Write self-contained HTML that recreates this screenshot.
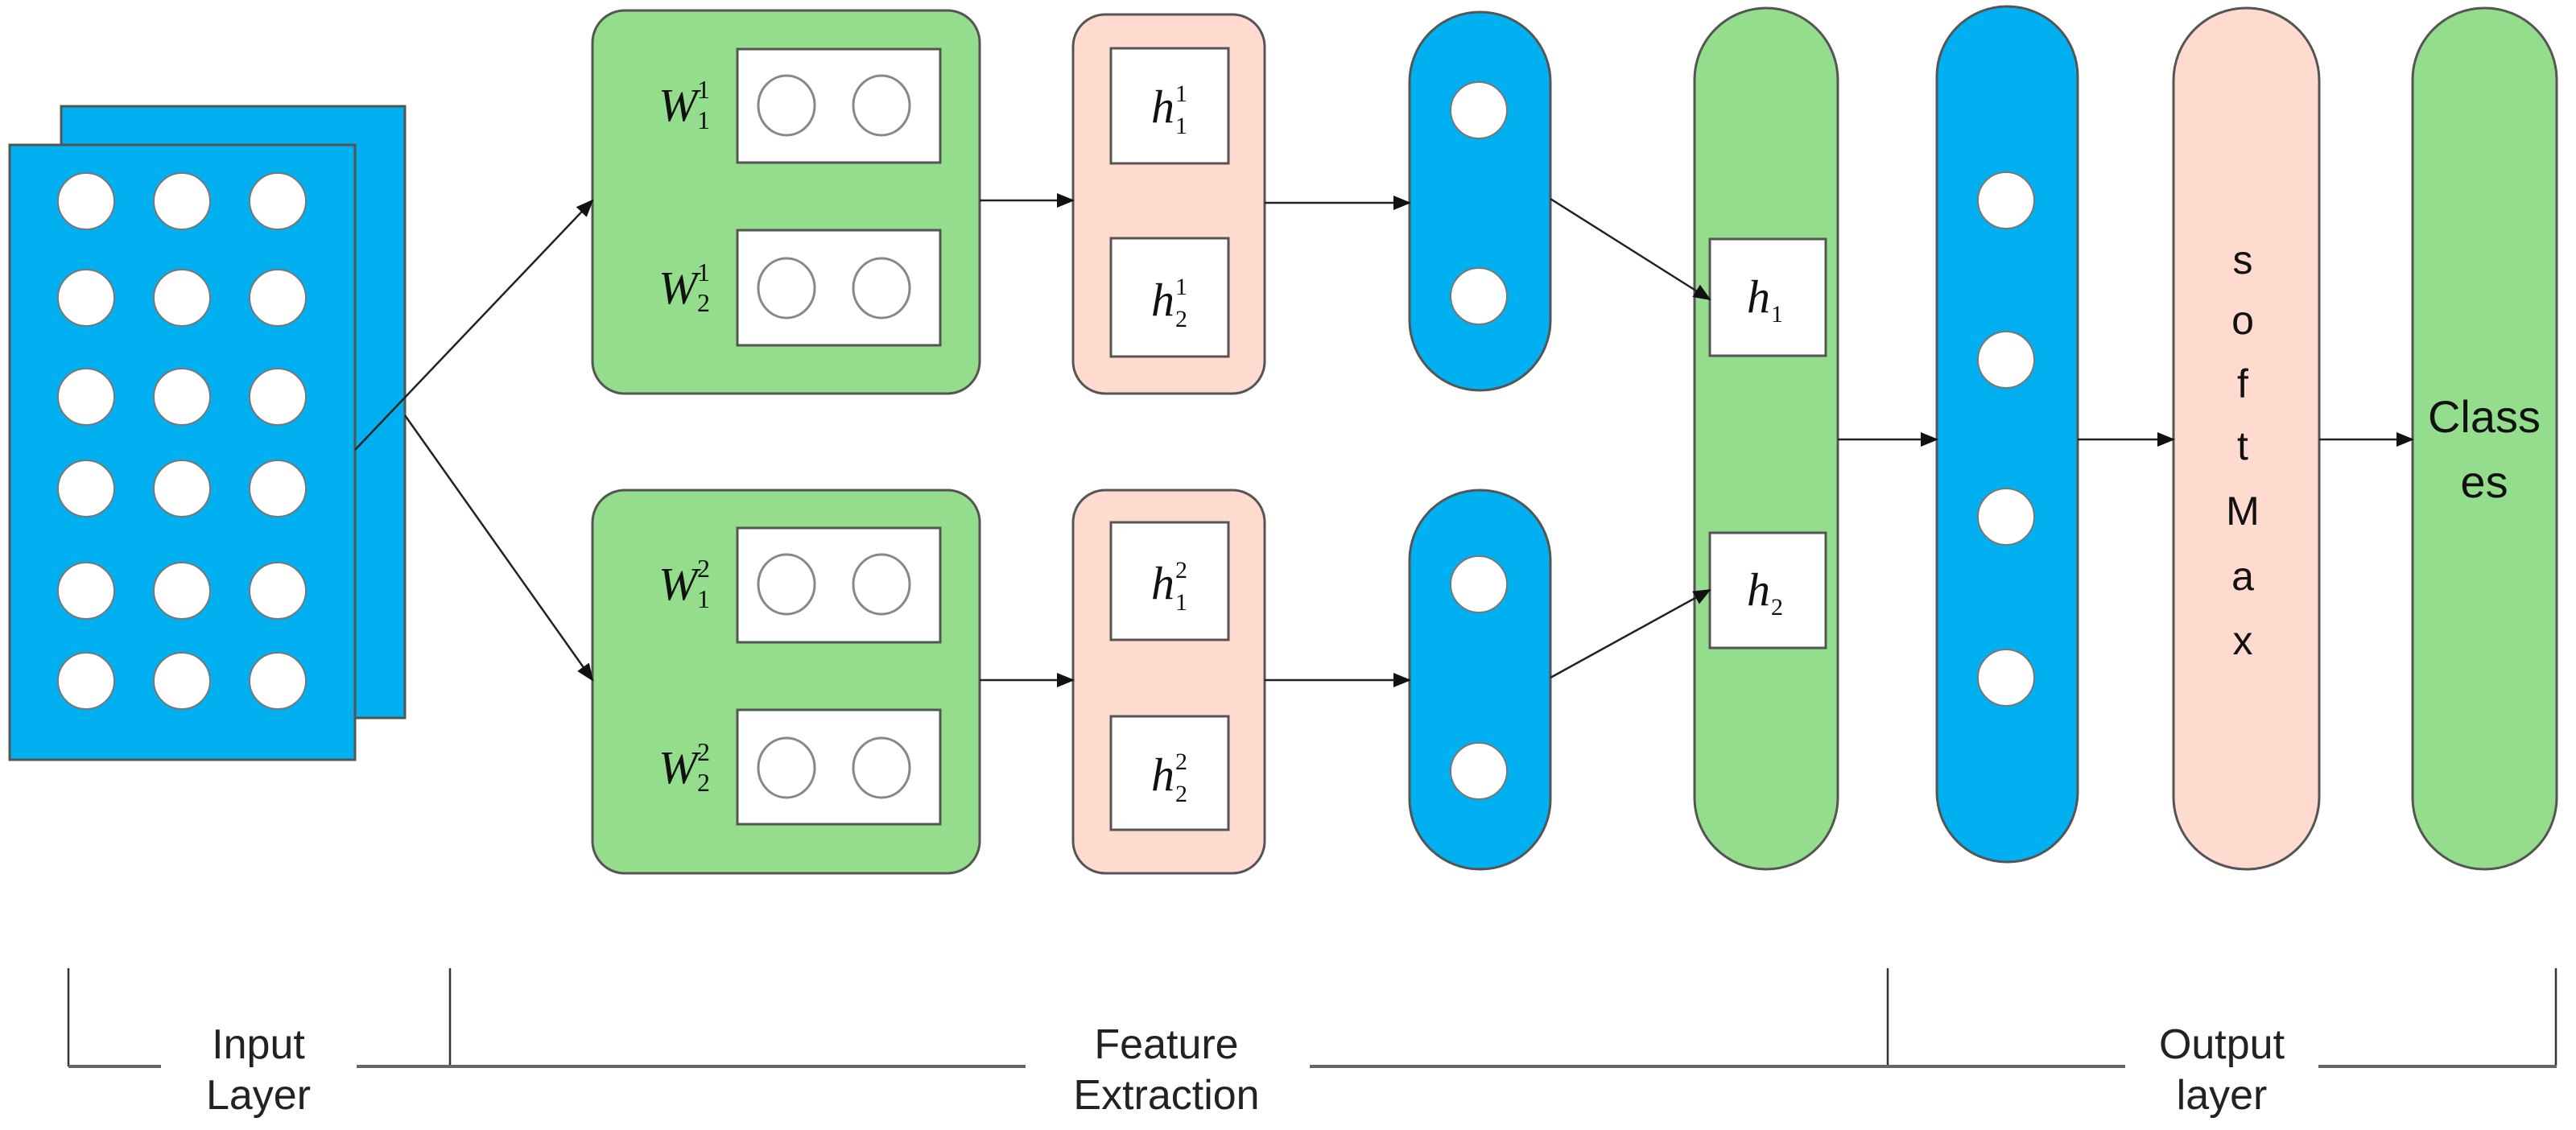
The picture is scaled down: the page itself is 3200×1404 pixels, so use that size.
<!DOCTYPE html>
<html><head><meta charset="utf-8"><style>html,body{margin:0;padding:0;background:#fff}svg{display:block}</style></head>
<body>
<svg width="3200" height="1404" viewBox="0 0 3200 1404" xmlns="http://www.w3.org/2000/svg">
<defs>
<marker id="ah" markerWidth="8" markerHeight="8" refX="7" refY="4" orient="auto" markerUnits="userSpaceOnUse" viewBox="0 0 8 8">
<path d="M0,0 L8,4 L0,8 z" fill="#111"/>
</marker>
<marker id="a" markerWidth="22" markerHeight="18" refX="20" refY="9" orient="auto" markerUnits="userSpaceOnUse">
<path d="M0,0 L22,9 L0,18 z" fill="#111"/>
</marker>
</defs>
<g stroke="#555" stroke-width="3">
<!-- input -->
<rect x="76" y="132" width="427" height="760" fill="#00B0F0"/>
<rect x="12" y="180" width="429" height="764" fill="#00B0F0"/>
</g>
<g fill="#fff" stroke="#777" stroke-width="2">
<circle cx="107" cy="250" r="35"/><circle cx="226" cy="250" r="35"/><circle cx="345" cy="250" r="35"/>
<circle cx="107" cy="370" r="35"/><circle cx="226" cy="370" r="35"/><circle cx="345" cy="370" r="35"/>
<circle cx="107" cy="493" r="35"/><circle cx="226" cy="493" r="35"/><circle cx="345" cy="493" r="35"/>
<circle cx="107" cy="607" r="35"/><circle cx="226" cy="607" r="35"/><circle cx="345" cy="607" r="35"/>
<circle cx="107" cy="734" r="35"/><circle cx="226" cy="734" r="35"/><circle cx="345" cy="734" r="35"/>
<circle cx="107" cy="846" r="35"/><circle cx="226" cy="846" r="35"/><circle cx="345" cy="846" r="35"/>
</g>
<g stroke="#555" stroke-width="3">
<!-- green boxes -->
<rect x="736" y="13" width="481" height="476" rx="40" fill="#94DD8D"/>
<rect x="736" y="609" width="481" height="476" rx="40" fill="#94DD8D"/>
<!-- pink boxes -->
<rect x="1333" y="18" width="238" height="471" rx="40" fill="#FFDACF"/>
<rect x="1333" y="609" width="238" height="476" rx="40" fill="#FFDACF"/>
<!-- white boxes -->
<rect x="916" y="61" width="252" height="141" fill="#fff"/>
<rect x="916" y="286" width="252" height="143" fill="#fff"/>
<rect x="916" y="656" width="252" height="142" fill="#fff"/>
<rect x="916" y="882" width="252" height="142" fill="#fff"/>
<rect x="1380" y="60" width="146" height="143" fill="#fff"/>
<rect x="1380" y="296" width="146" height="147" fill="#fff"/>
<rect x="1380" y="649" width="146" height="146" fill="#fff"/>
<rect x="1380" y="890" width="146" height="141" fill="#fff"/>
<!-- pills -->
<rect x="1751" y="15" width="175" height="470" rx="87" fill="#00B0F0"/>
<rect x="1751" y="609" width="175" height="471" rx="87" fill="#00B0F0"/>
<rect x="2105" y="10" width="178" height="1070" rx="89" fill="#94DD8D"/>
<rect x="2406" y="8" width="175" height="1063" rx="87" fill="#00B0F0"/>
<rect x="2700" y="10" width="181" height="1070" rx="90" fill="#FFDACF"/>
<rect x="2997" y="10" width="179" height="1070" rx="89" fill="#94DD8D"/>
<rect x="2124" y="297" width="144" height="145" fill="#fff"/>
<rect x="2124" y="662" width="144" height="143" fill="#fff"/>
</g>
<g fill="none" stroke="#888" stroke-width="3">
<ellipse cx="977" cy="131" rx="35" ry="37"/><ellipse cx="1095" cy="131" rx="35" ry="37"/>
<ellipse cx="977" cy="358" rx="35" ry="37"/><ellipse cx="1095" cy="358" rx="35" ry="37"/>
<ellipse cx="977" cy="726" rx="35" ry="37"/><ellipse cx="1095" cy="726" rx="35" ry="37"/>
<ellipse cx="977" cy="954" rx="35" ry="37"/><ellipse cx="1095" cy="954" rx="35" ry="37"/>
</g>
<g fill="#fff" stroke="#777" stroke-width="2">
<circle cx="1837" cy="137" r="35"/><circle cx="1837" cy="368" r="35"/>
<circle cx="1837" cy="726" r="35"/><circle cx="1837" cy="958" r="35"/>
<circle cx="2492" cy="249" r="35"/><circle cx="2492" cy="447" r="35"/>
<circle cx="2492" cy="642" r="35"/><circle cx="2492" cy="842" r="35"/>
</g>
<!-- arrows -->
<g stroke="#222" stroke-width="2.5" marker-end="url(#a)">
<line x1="441" y1="559" x2="736" y2="249"/>
<line x1="503" y1="516" x2="736" y2="845"/>
<line x1="1217" y1="249" x2="1333" y2="249"/>
<line x1="1217" y1="845" x2="1333" y2="845"/>
<line x1="1571" y1="252" x2="1751" y2="252"/>
<line x1="1571" y1="845" x2="1751" y2="845"/>
<line x1="1926" y1="247" x2="2124" y2="372"/>
<line x1="1926" y1="842" x2="2124" y2="733"/>
<line x1="2283" y1="546" x2="2406" y2="546"/>
<line x1="2581" y1="546" x2="2700" y2="546"/>
<line x1="2881" y1="546" x2="2997" y2="546"/>
</g>
<!-- math labels -->
<g font-family="Liberation Serif, serif" font-style="italic" fill="#111">
<text x="818" y="150" font-size="58">W</text><text x="866" y="122" font-size="32" font-style="normal">1</text><text x="866" y="160" font-size="32" font-style="normal">1</text>
<text x="818" y="377" font-size="58">W</text><text x="866" y="349" font-size="32" font-style="normal">1</text><text x="866" y="387" font-size="32" font-style="normal">2</text>
<text x="818" y="745" font-size="58">W</text><text x="866" y="717" font-size="32" font-style="normal">2</text><text x="866" y="755" font-size="32" font-style="normal">1</text>
<text x="818" y="973" font-size="58">W</text><text x="866" y="945" font-size="32" font-style="normal">2</text><text x="866" y="983" font-size="32" font-style="normal">2</text>
<text x="1430" y="152" font-size="58">h</text><text x="1460" y="126" font-size="30" font-style="normal">1</text><text x="1460" y="166" font-size="30" font-style="normal">1</text>
<text x="1430" y="392" font-size="58">h</text><text x="1460" y="366" font-size="30" font-style="normal">1</text><text x="1460" y="406" font-size="30" font-style="normal">2</text>
<text x="1430" y="744" font-size="58">h</text><text x="1460" y="718" font-size="30" font-style="normal">2</text><text x="1460" y="758" font-size="30" font-style="normal">1</text>
<text x="1430" y="982" font-size="58">h</text><text x="1460" y="956" font-size="30" font-style="normal">2</text><text x="1460" y="996" font-size="30" font-style="normal">2</text>
<text x="2170" y="388" font-size="58">h</text><text x="2200" y="400" font-size="30" font-style="normal">1</text>
<text x="2170" y="752" font-size="58">h</text><text x="2200" y="764" font-size="30" font-style="normal">2</text>
</g>
<g font-family="Liberation Sans, sans-serif" font-size="50" fill="#111" text-anchor="middle">
<text x="2786" y="340">s</text><text x="2786" y="415">o</text><text x="2786" y="494">f</text>
<text x="2786" y="571">t</text><text x="2786" y="652">M</text><text x="2786" y="733">a</text><text x="2786" y="813">x</text>
<text x="3086" y="537" font-size="56">Class</text><text x="3086" y="618" font-size="56">es</text>
</g>
<!-- bottom brackets -->
<g stroke="#333" stroke-width="2.5">
<line x1="85" y1="1203" x2="85" y2="1325"/>
<line x1="559" y1="1203" x2="559" y2="1325"/>
<line x1="2345" y1="1203" x2="2345" y2="1325"/>
<line x1="3175" y1="1203" x2="3175" y2="1325"/>
</g>
<g stroke="#666" stroke-width="4">
<line x1="85" y1="1325" x2="200" y2="1325"/>
<line x1="443" y1="1325" x2="1274" y2="1325"/>
<line x1="1627" y1="1325" x2="2640" y2="1325"/>
<line x1="2880" y1="1325" x2="3176" y2="1325"/>
</g>
<g font-family="Liberation Sans, sans-serif" font-size="52" fill="#222" text-anchor="middle">
<text x="321" y="1315">Input</text><text x="321" y="1378">Layer</text>
<text x="1449" y="1315">Feature</text><text x="1449" y="1378">Extraction</text>
<text x="2760" y="1315">Output</text><text x="2760" y="1378">layer</text>
</g>
</svg>
</body></html>
